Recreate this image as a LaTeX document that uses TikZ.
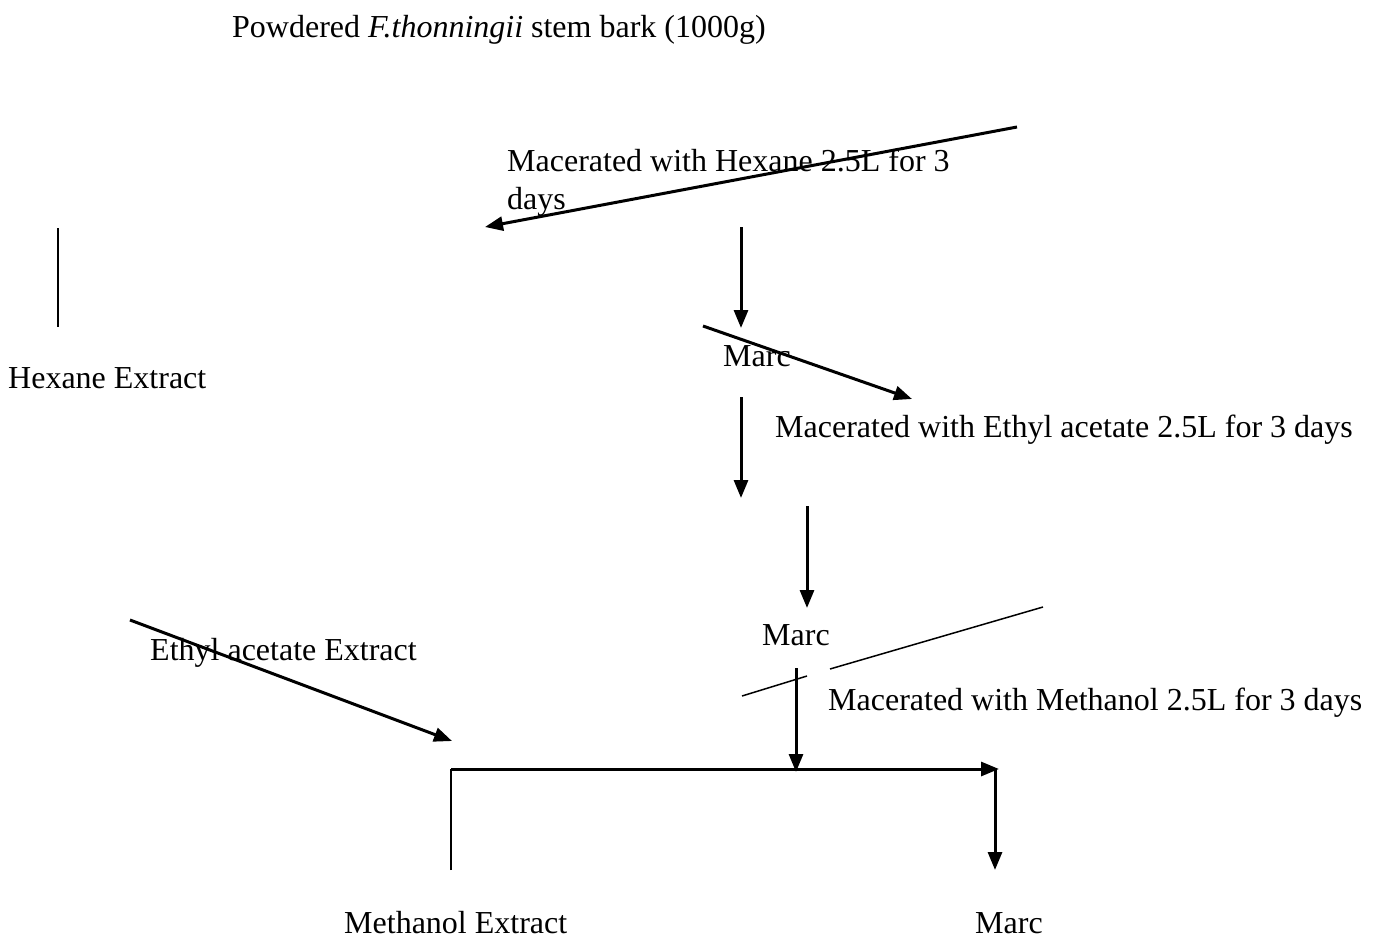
\documentclass[tikz,border=0pt]{standalone}
\usepackage{fontspec}
\setmainfont{Liberation Serif}
\usetikzlibrary{arrows.meta}
\begin{document}
\begin{tikzpicture}[x=1pt,y=-1pt,
  lbl/.style={anchor=base west,inner sep=0pt,font=\fontsize{32}{38}\selectfont},
  arr/.style={line width=3pt,-{Triangle[length=18pt,width=14pt]}},
  plain/.style={line width=1.5pt}]
\useasboundingbox (0,0) rectangle (1377,940);
% texts
\node[lbl] (powder) at (232,37) {Powdered \textit{F.thonningii} stem bark (1000g)};
\node[lbl,align=left] (hexmac) at (507,209) {Macerated with Hexane 2.5L for 3\\days};
\node[lbl] (hexext) at (8,388) {Hexane Extract};
\node[lbl] (marc1) at (723,366) {Marc};
\node[lbl] (ethmac) at (775,437) {Macerated with Ethyl acetate 2.5L for 3 days};
\node[lbl] (marc2) at (762,645) {Marc};
\node[lbl] (ethext) at (150,660) {Ethyl acetate Extract};
\node[lbl] (methmac) at (828,710) {Macerated with Methanol 2.5L for 3 days};
\node[lbl] (methext) at (344,933) {Methanol Extract};
\node[lbl] (marc3) at (975,933) {Marc};
% coordinates
\coordinate (a1s) at (1017,127); \coordinate (a1e) at (485,227);
\coordinate (v1s) at (58,228); \coordinate (v1e) at (58,327);
\coordinate (a2s) at (741,227); \coordinate (a2e) at (741,328);
\coordinate (a3s) at (703,326); \coordinate (a3e) at (912,399);
\coordinate (a4s) at (741,397); \coordinate (a4e) at (741,498);
\coordinate (a5s) at (807,506); \coordinate (a5e) at (807,608);
\coordinate (l1s) at (742,696); \coordinate (l1e) at (807,676);
\coordinate (l2s) at (830,669); \coordinate (l2e) at (1043,607);
\coordinate (a6s) at (796,668); \coordinate (a6e) at (796,772);
\coordinate (a7s) at (130,620); \coordinate (a7e) at (452,741);
\coordinate (bl) at (451,870); \coordinate (tl) at (451,769);
\coordinate (tr) at (999,769); \coordinate (trd) at (995,769);
\coordinate (br) at (995,870);
% connectors
\draw[arr] (a1s) -- (a1e);
\draw[plain] (v1s) -- (v1e);
\draw[arr] (a2s) -- (a2e);
\draw[arr] (a3s) -- (a3e);
\draw[arr] (a4s) -- (a4e);
\draw[arr] (a5s) -- (a5e);
\draw[plain] (l1s) -- (l1e);
\draw[plain] (l2s) -- (l2e);
\draw[arr] (a6s) -- (a6e);
\draw[arr] (a7s) -- (a7e);
\draw[plain] (bl) -- (tl);
\draw[arr] (tl) -- (tr);
\draw[arr] (trd) -- (br);
\end{tikzpicture}
\end{document}
